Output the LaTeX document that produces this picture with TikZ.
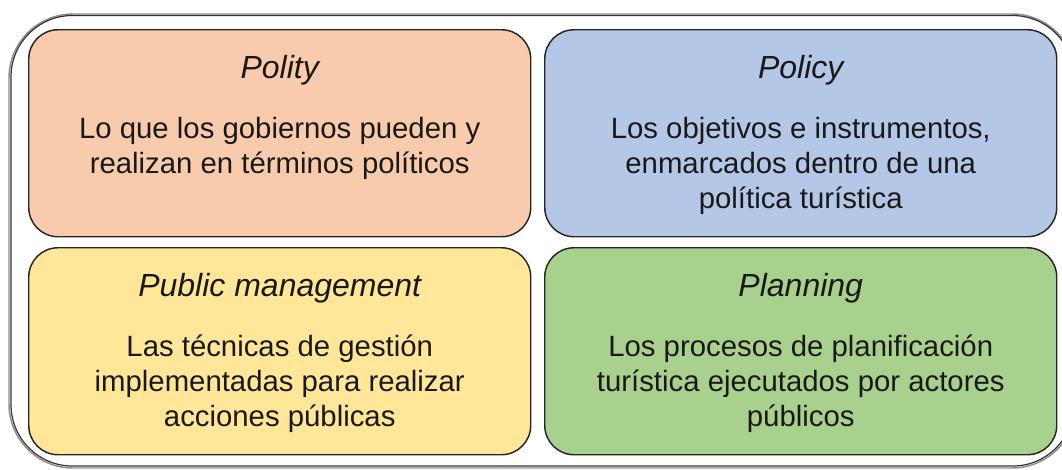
\documentclass[tikz,border=0pt]{standalone}
\usepackage{fontspec}
\setmainfont{Liberation Sans}
\usetikzlibrary{positioning}

\definecolor{politycol}{HTML}{F8CBAD}
\definecolor{policycol}{HTML}{B4C7E7}
\definecolor{managecol}{HTML}{FFE699}
\definecolor{plancol}{HTML}{A9D18E}

% first line of a text block gets a fixed height
\newcommand{\toprow}{\rule{0pt}{20pt}}

\tikzset{
  quad/.style={draw=black!85, line width=1.1pt, rounded corners=22pt,
    minimum height=155.25pt, inner sep=0pt, anchor=north west},
  quadtitle/.style={anchor=base, inner sep=0pt, text=black!90,
    font=\fontsize{24}{28}\selectfont\itshape},
  quadtext/.style={anchor=north, align=center, inner sep=0pt, text=black!90,
    font=\fontsize{22}{26.25}\selectfont}
}

\begin{document}
\begin{tikzpicture}[x=0.75pt, y=-0.75pt]
    \useasboundingbox (0,0) rectangle (1062,469);
    \clip (0,0) rectangle (1062,469);
    % outer frame
    \draw[black!45, line width=1.1pt, rounded corners=48pt] (9,14) rectangle (1076,468);
    \draw[black!80, line width=0.9pt, rounded corners=46pt] (11,15.5) rectangle (1074,466);
    % four boxes
    \node[quad, fill=politycol, minimum width=376.5pt] (polity) at (28,29) {};
    \node[quad, fill=policycol, minimum width=384pt] (policy) at (544,29) {};
    \node[quad, fill=managecol, minimum width=376.5pt] (manage) at (28,247) {};
    \node[quad, fill=plancol, minimum width=384pt] (plan) at (544,247) {};
    % titles
    \node[quadtitle] (politytitle) at ([yshift=-37pt]polity.north) {Polity};
    \node[quadtitle] (policytitle) at ([yshift=-37pt]policy.north) {Policy};
    \node[quadtitle] (managetitle) at ([yshift=-37pt]manage.north) {Public management};
    \node[quadtitle] (plantitle) at ([yshift=-37pt]plan.north) {Planning};
    % texts
    \node[quadtext] (politytext) at ([yshift=-62pt]polity.north)
      {\toprow Lo que los gobiernos pueden y\\realizan en términos políticos};
    \node[quadtext] (policytext) at ([yshift=-62pt]policy.north)
      {\toprow Los objetivos e instrumentos,\\enmarcados dentro de una\\política turística};
    \node[quadtext] (managetext) at ([yshift=-62pt]manage.north)
      {\toprow Las técnicas de gestión\\implementadas para realizar\\acciones públicas};
    \node[quadtext] (plantext) at ([yshift=-62pt]plan.north)
      {\toprow Los procesos de planificación\\turística ejecutados por actores\\públicos};
\end{tikzpicture}
\end{document}
